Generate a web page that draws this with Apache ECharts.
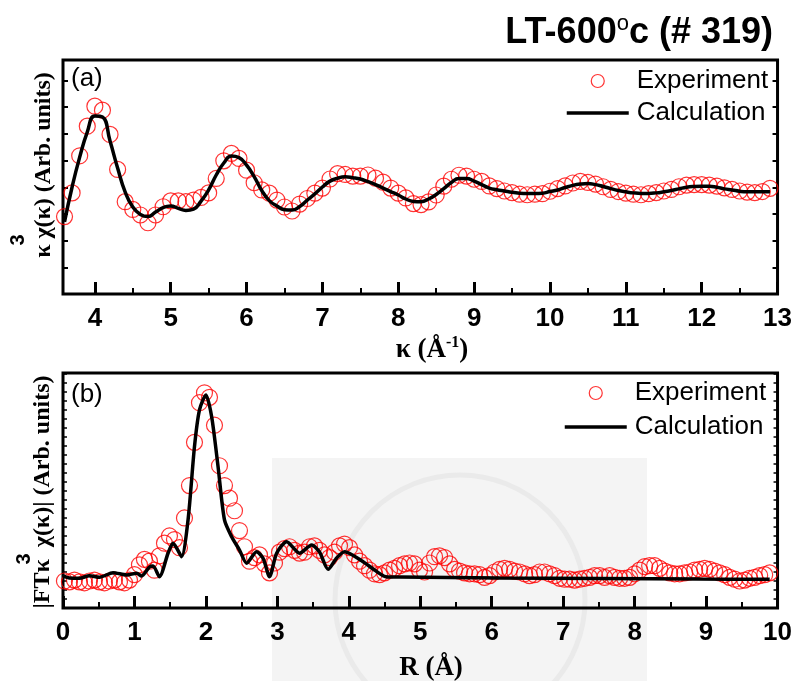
<!DOCTYPE html>
<html>
<head>
<meta charset="utf-8">
<title>LT-600°c (# 319)</title>
<script src="https://cdn.jsdelivr.net/npm/echarts/dist/echarts.min.js"></script>
<style>
  html, body { margin: 0; padding: 0; background: #fff; }
  #main { width: 795px; height: 681px; }
</style>
</head>
<body>
<div id="main"></div>
<script type="text/javascript">
// (a) k-space: k = 3.6, 3.7, ... 12.9
var kStart = 3.6, kStep = 0.1;
var expA = [2.90, 3.79, 5.18, 6.29, 7.04, 6.89, 5.98, 4.67, 3.46, 3.17,
            2.96, 2.67, 2.96, 3.27, 3.49, 3.49, 3.46, 3.52, 3.62, 3.79,
            4.33, 4.99, 5.27, 5.08, 4.64, 4.17, 3.90, 3.78, 3.52, 3.26,
            3.11, 3.37, 3.58, 3.78, 3.97, 4.31, 4.51, 4.48, 4.42, 4.42,
            4.46, 4.34, 4.19, 3.97, 3.78, 3.60, 3.39, 3.35, 3.45, 3.71,
            4.04, 4.30, 4.45, 4.42, 4.30, 4.22, 4.05, 3.95, 3.86, 3.80,
            3.74, 3.72, 3.74, 3.76, 3.85, 3.95, 4.05, 4.16, 4.22, 4.18,
            4.12, 4.02, 3.92, 3.84, 3.78, 3.74, 3.72, 3.76, 3.80, 3.86,
            3.92, 4.02, 4.08, 4.10, 4.10, 4.08, 4.04, 3.98, 3.92, 3.86,
            3.82, 3.80, 3.84, 3.96];
var calcA = [2.70, 4.01, 5.13, 6.07, 6.67, 6.63, 5.73, 4.72, 3.82, 3.26,
             2.98, 2.90, 3.07, 3.24, 3.30, 3.21, 3.13, 3.18, 3.48, 3.90,
             4.46, 4.91, 5.17, 5.11, 4.83, 4.40, 3.88, 3.50, 3.30, 3.16,
             3.15, 3.28, 3.52, 3.75, 4.01, 4.23, 4.34, 4.39, 4.36, 4.31,
             4.21, 4.10, 3.97, 3.84, 3.71, 3.56, 3.47, 3.46, 3.56, 3.73,
             3.95, 4.18, 4.33, 4.33, 4.23, 4.10, 3.97, 3.91, 3.86, 3.81,
             3.78, 3.77, 3.77, 3.78, 3.84, 3.90, 3.99, 4.07, 4.12, 4.14,
             4.10, 4.03, 3.95, 3.88, 3.83, 3.79, 3.77, 3.77, 3.79, 3.83,
             3.88, 3.94, 4.00, 4.03, 4.04, 4.04, 4.00, 3.94, 3.90, 3.85,
             3.83, 3.83, 3.83, 3.83];
var kTicks = [4, 5, 6, 7, 8, 9, 10, 11, 12, 13];
var kMinorTicks = [4.5, 5.5, 6.5, 7.5, 8.5, 9.5, 10.5, 11.5, 12.5];

// (b) R-space: R = 0.02, 0.09, ... 9.89
var rStart = 0.02, rStep = 0.07;
var expB = [3.0, 2.9, 3.1, 2.9, 2.8, 3.0, 3.1, 2.9, 2.8, 3.0,
            3.1, 2.9, 2.8, 3.1, 3.7, 4.8, 5.4, 5.2, 4.2, 5.8,
            7.2, 8.0, 7.6, 6.7, 10.0, 13.6, 18.4, 22.8, 23.9, 23.4,
            20.3, 15.8, 13.6, 12.2, 10.8, 8.6, 6.8, 5.2, 5.6, 5.9,
            4.9, 3.9, 5.0, 6.2, 6.6, 6.8, 6.4, 6.1, 6.2, 6.8,
            6.9, 6.4, 5.9, 5.6, 6.2, 6.9, 7.1, 6.7, 5.9, 5.2,
            4.7, 4.2, 3.8, 3.7, 3.9, 4.2, 4.4, 4.7, 4.9, 5.0,
            4.9, 4.2, 4.0, 5.0, 5.7, 5.8, 5.6, 4.9, 4.3, 4.1,
            3.9, 3.8, 3.8, 3.7, 3.4, 3.6, 4.0, 4.3, 4.4, 4.3,
            4.1, 4.0, 3.8, 3.6, 3.7, 4.0, 4.0, 3.8, 3.6, 3.3,
            3.2, 3.2, 3.1, 3.2, 3.3, 3.4, 3.6, 3.6, 3.4, 3.6,
            3.4, 3.3, 3.3, 3.4, 3.8, 4.2, 4.6, 4.7, 4.7, 4.4,
            4.1, 3.9, 3.8, 3.8, 3.9, 4.0, 4.2, 4.3, 4.4, 4.3,
            4.1, 3.9, 3.7, 3.4, 3.2, 3.0, 3.1, 3.3, 3.4, 3.6,
            3.7, 3.9];
var calcBR = [0.00, 0.09, 0.23, 0.37, 0.51, 0.70, 0.89, 1.03, 1.10, 1.21,
              1.26, 1.35, 1.47, 1.54, 1.59, 1.66, 1.75, 1.84, 1.91, 2.00,
              2.08, 2.17, 2.26, 2.36, 2.47, 2.57, 2.71, 2.80, 2.89, 2.99,
              3.13, 3.31, 3.48, 3.59, 3.71, 3.83, 3.94, 4.20, 4.36, 4.52,
              4.71, 6.11, 7.51, 8.91, 9.89];
var calcBY = [3.56, 3.33, 3.30, 3.59, 3.41, 3.92, 3.67, 3.86, 3.56, 4.56,
              4.67, 3.48, 6.08, 7.19, 6.67, 5.70, 9.78, 17.92, 22.00, 23.67,
              21.26, 15.70, 9.78, 7.92, 6.44, 4.97, 6.26, 5.52, 3.48, 6.08,
              7.37, 6.08, 7.00, 6.22, 4.30, 5.56, 6.26, 5.14, 4.22, 3.48,
              3.44, 3.33, 3.28, 3.22, 3.19];

var SANS = 'Liberation Sans, Arial, sans-serif';
var SERIF = 'Liberation Serif, Times New Roman, serif';

var expAData = expA.map(function (v, i) { return [+(kStart + i * kStep).toFixed(2), v]; });
var calcAData = calcA.map(function (v, i) { return [+(kStart + i * kStep).toFixed(2), v]; });
var expBData = expB.map(function (v, i) { return [+(rStart + i * rStep).toFixed(3), v]; });
var calcBData = calcBY.map(function (v, i) { return [calcBR[i], v]; });

var myChart = echarts.init(document.getElementById('main'), null, { renderer: 'canvas' });

function xLabel() {
    return { color: '#000', fontFamily: SANS, fontWeight: 'bold', fontSize: 26, margin: 12 };
}
function yAx(grid, max, pos, len, w) {
    return {
        gridIndex: grid, type: 'value', min: 0, max: max, interval: 1, position: pos,
        axisLine: { show: false, onZero: false },
        axisTick: { show: true, inside: true, length: len, lineStyle: { color: '#000', width: w } },
        axisLabel: { show: false },
        splitLine: { show: false }
    };
}
function legendFor(left, top, gap) {
    return {
        orient: 'vertical', left: left, top: top, padding: 0,
        itemWidth: 62, itemHeight: 13, itemGap: gap, selectedMode: false,
        textStyle: { fontFamily: SANS, fontSize: 26, color: '#000', lineHeight: 26, padding: [0, 0, 0, 3] },
        data: [
            { name: 'Experiment', icon: 'circle',
              itemStyle: { color: 'rgba(0,0,0,0)', borderColor: '#ff0000', borderWidth: 1.2 } },
            { name: 'Calculation',
              itemStyle: { color: 'rgba(0,0,0,0)', borderColor: 'rgba(0,0,0,0)', borderWidth: 0, opacity: 0 },
              lineStyle: { color: '#000', width: 3.5, opacity: 1 } }
        ]
    };
}

var option = {
    animation: false,
    backgroundColor: '#fff',
    grid: [
        { left: 63, top: 60, right: 17, height: 234, show: true, borderColor: '#000', borderWidth: 3, backgroundColor: 'transparent' },
        { left: 63, top: 373, right: 17, height: 235, show: true, borderColor: '#000', borderWidth: 3, backgroundColor: 'transparent' }
    ],
    legend: [legendFor(565, 68, 6), legendFor(563, 380, 8)],
    xAxis: [
        {
            gridIndex: 0, type: 'value', min: 3.58, max: 13, position: 'bottom',
            axisLine: { show: false, onZero: false }, splitLine: { show: false },
            axisTick: { show: true, inside: true, length: 12, customValues: kTicks, lineStyle: { color: '#000', width: 3 } },
            axisLabel: Object.assign(xLabel(), { customValues: kTicks })
        },
        {
            gridIndex: 0, type: 'value', min: 3.58, max: 13, position: 'bottom',
            axisLine: { show: false, onZero: false }, splitLine: { show: false },
            axisTick: { show: true, inside: true, length: 6, customValues: kMinorTicks, lineStyle: { color: '#000', width: 2 } },
            axisLabel: { show: false }
        },
        {
            gridIndex: 1, type: 'value', min: 0, max: 10, interval: 1, position: 'bottom',
            axisLine: { show: false, onZero: false }, splitLine: { show: false },
            axisTick: { show: true, inside: true, length: 12, lineStyle: { color: '#000', width: 3 } },
            minorTick: { show: true, splitNumber: 2, length: 6, lineStyle: { color: '#000', width: 2 } },
            axisLabel: xLabel()
        }
    ],
    yAxis: [
        yAx(0, 8.77, 'left', 5, 2),
        yAx(0, 8.77, 'right', 5, 2),
        yAx(1, 26.1, 'left', 4, 1.5),
        yAx(1, 26.1, 'right', 4, 1.5)
    ],
    series: [
        { type: 'scatter', name: 'Experiment', xAxisIndex: 0, yAxisIndex: 0, data: expAData,
          symbol: 'circle', symbolSize: 16, silent: true, z: 2,
          itemStyle: { color: 'rgba(0,0,0,0)', borderColor: '#ff0000', borderWidth: 1.2 } },
        { type: 'line', name: 'Calculation', xAxisIndex: 0, yAxisIndex: 0, data: calcAData,
          smooth: true, symbol: 'none', silent: true, z: 3,
          lineStyle: { color: '#000', width: 3.5 }, itemStyle: { color: '#000' } },
        { type: 'scatter', name: 'Experiment', xAxisIndex: 2, yAxisIndex: 2, data: expBData,
          symbol: 'circle', symbolSize: 16, silent: true, z: 2,
          itemStyle: { color: 'rgba(0,0,0,0)', borderColor: '#ff0000', borderWidth: 1.2 } },
        { type: 'line', name: 'Calculation', xAxisIndex: 2, yAxisIndex: 2, data: calcBData,
          smooth: 0.25, symbol: 'none', silent: true, z: 3,
          lineStyle: { color: '#000', width: 3.5 }, itemStyle: { color: '#000' } }
    ],
    graphic: [
        // faint watermark behind panel (b)
        { type: 'rect', z: -10, silent: true, shape: { x: 272, y: 458, width: 375, height: 223 }, style: { fill: '#f4f4f4' } },
        { type: 'circle', z: -9, silent: true, shape: { cx: 460, cy: 600, r: 125 }, style: { fill: 'none', stroke: '#eaeaea', lineWidth: 5 } },
        // title
        { type: 'text', x: 773, y: 33, z: 10,
          style: { text: '{a|LT-600}{o|o}{a|c (# 319)}', align: 'right', verticalAlign: 'middle',
                   textAlign: 'right', textVerticalAlign: 'middle',
                   rich: { a: { font: 'bold 36px ' + SANS, fill: '#000', lineHeight: 40 },
                           o: { font: '22px ' + SANS, fill: '#000', lineHeight: 20, verticalAlign: 'top' } } } },
        // panel letters
        { type: 'text', x: 71, y: 79, z: 10,
          style: { text: '(a)', font: '26px ' + SANS, fill: '#000', align: 'left', verticalAlign: 'middle', textAlign: 'left', textVerticalAlign: 'middle' } },
        { type: 'text', x: 71, y: 395, z: 10,
          style: { text: '(b)', font: '26px ' + SANS, fill: '#000', align: 'left', verticalAlign: 'middle', textAlign: 'left', textVerticalAlign: 'middle' } },
        // x axis names
        { type: 'text', x: 432, y: 350, z: 10,
          style: { text: '{n|\u03ba (\u00c5}{s|-1}{n|)}', align: 'center', verticalAlign: 'middle', textAlign: 'center', textVerticalAlign: 'middle',
                   rich: { n: { font: 'bold 27px ' + SERIF, fill: '#000', lineHeight: 30 },
                           s: { font: 'bold 16px ' + SERIF, fill: '#000', lineHeight: 16, verticalAlign: 'top' } } } },
        { type: 'text', x: 431, y: 668, z: 10,
          style: { text: 'R (\u00c5)', font: 'bold 27px ' + SERIF, fill: '#000', align: 'center', verticalAlign: 'middle', textAlign: 'center', textVerticalAlign: 'middle' } },
        // y axis names (rotated)
        { type: 'text', x: 44, y: 165, rotation: Math.PI / 2, z: 10,
          style: { text: '\u03ba \u03c7(\u03ba) (Arb. units)', font: 'bold 24px ' + SERIF, fill: '#000', align: 'center', verticalAlign: 'middle', textAlign: 'center', textVerticalAlign: 'middle' } },
        { type: 'text', x: 18, y: 240, rotation: Math.PI / 2, z: 10,
          style: { text: '3', font: 'bold 20px ' + SANS, fill: '#000', align: 'center', verticalAlign: 'middle', textAlign: 'center', textVerticalAlign: 'middle' } },
        { type: 'text', x: 43, y: 492, rotation: Math.PI / 2, z: 10,
          style: { text: '|FT\u03ba  \u03c7(\u03ba)| (Arb. units)', font: 'bold 24px ' + SERIF, fill: '#000', align: 'center', verticalAlign: 'middle', textAlign: 'center', textVerticalAlign: 'middle' } },
        { type: 'text', x: 24, y: 559, rotation: Math.PI / 2, z: 10,
          style: { text: '3', font: 'bold 20px ' + SANS, fill: '#000', align: 'center', verticalAlign: 'middle', textAlign: 'center', textVerticalAlign: 'middle' } }
    ]
};

myChart.setOption(option);
</script>
</body>
</html>
